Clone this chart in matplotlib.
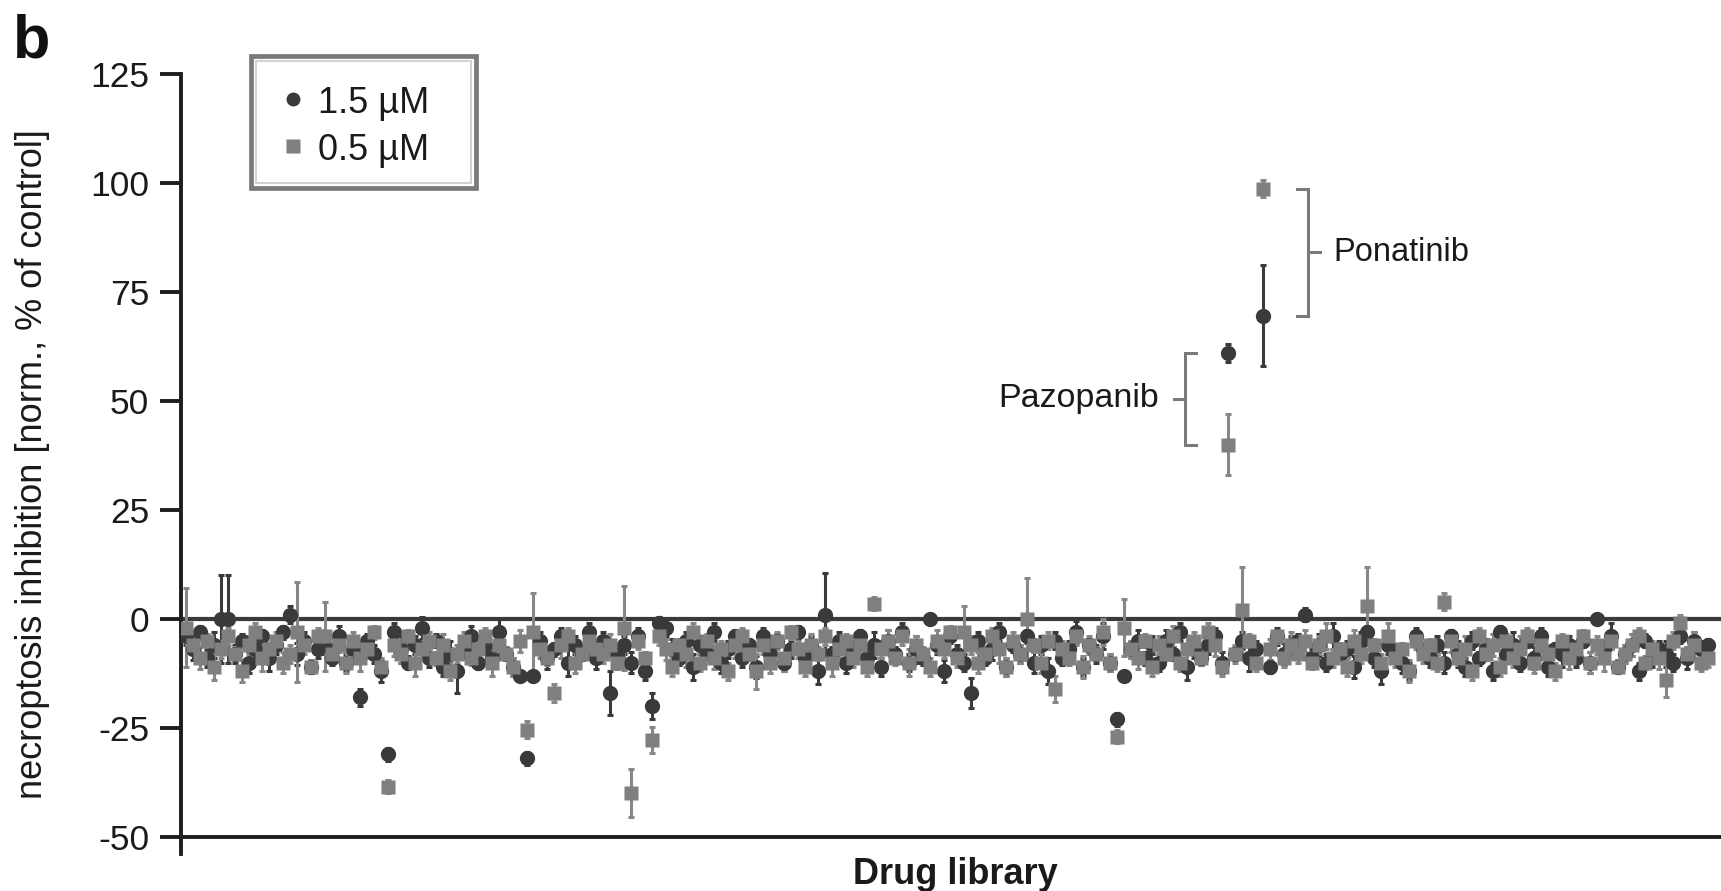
import matplotlib
matplotlib.use("Agg")
import matplotlib.pyplot as plt
from matplotlib.lines import Line2D
from matplotlib.patches import Rectangle
import numpy as np

plt.rcParams['font.family'] = ['Liberation Sans', 'DejaVu Sans']
plt.rcParams['axes.unicode_minus'] = False

# ---------------- data ----------------
series_labels = ["1.5 \u00b5M", "0.5 \u00b5M"]

dark_vals = [
    -4, -7, -3, -9, -6, 0, 0, -8, -5, -10, -7, -4, -9, -6, -3, 1, -8, -5, -11, -7,
    -6, -9, -4, -10, -7, -18, -5, -8, -12, -31, -3, -7, -10, -6, -2, -9, -5, -11, -8, -12,
    -7, -4, -10, -6, -9, -3, -8, -11, -13, -32, -13, -5, -9, -7, -4, -10, -6, -8, -3, -9,
    -5, -17, -8, -6, -10, -4, -12, -20, -1, -2, -7, -9, -5, -11, -6, -8, -3, -10, -7, -4,
    -9, -6, -11, -4, -8, -5, -10, -7, -3, -9, -6, -12, 1, -8, -5, -10, -7, -4, -9, -6,
    -11, -5, -8, -3, -10, -7, -9, 0, -6, -12, -4, -8, -10, -17, -5, -9, -7, -3, -11, -6,
    -8, -4, -10, -6, -12, -5, -9, -7, -3, -11, -6, -8, -4, -10, -23, -13, -7, -5, -9, -6,
    -10, -5, -8, -3, -11, -7, -9, -6, -4, -10, 61, -8, -5, -9, -7, 69.6, -11, -4, -8, -6,
    -5, 1, -9, -6, -10, -4, -8, -7, -11, -5, -3, -9, -12, -6, -8, -10, -12, -4, -7, -9,
    -6, -10, -4, -8, -11, -5, -9, -7, -12, -3, -8, -6, -10, -5, -9, -4, -11, -7, -8, -6,
    -9, -5, -10, 0, -7, -4, -11, -8, -6, -12, -5, -9, -7, -8, -10, -4, -9, -5, -7, -6,
]
dark_err = [
    2, 2.5, 1.5, 2, 3, 10, 10, 2, 1.5, 2.5, 2, 1.5, 3, 2, 1.5, 2, 2.5, 2, 1.5, 2,
    2, 1.5, 2.5, 2, 3, 2, 1.5, 2, 2.5, 1.5, 2, 3, 1.5, 2, 2.5, 2, 1.5, 2, 3, 5,
    2, 2.5, 1.5, 2, 2, 3, 1.5, 2, 1, 1.5, 1, 2, 2.5, 1.5, 2, 3, 2, 1.5, 2, 2.5,
    2, 5, 1.5, 2, 2.5, 2, 2, 3, 1.5, 2, 2.5, 1.5, 2, 3, 2, 1.5, 2, 2.5, 2, 1.5,
    2, 1.5, 2.5, 2, 3, 1.5, 2, 2, 1.5, 2.5, 2, 3, 9.5, 1.5, 2, 2.5, 2, 1.5, 2, 3,
    2, 2.5, 1.5, 2, 2, 3, 1.5, 1, 2, 2.5, 1.5, 2, 2, 3.5, 2, 1.5, 2.5, 2, 2, 1.5,
    2, 1.5, 2.5, 2, 3, 2, 1.5, 2, 2.5, 2, 1.5, 2, 3, 2, 1.5, 1, 2, 2.5, 1.5, 2,
    2, 2.5, 1.5, 2, 3, 2, 1.5, 2, 2, 2.5, 2, 1.5, 2, 3, 2, 11.5, 1.5, 2, 2.5, 2,
    1.5, 1.5, 2, 2.5, 2, 3, 1.5, 2, 2.5, 2, 1.5, 2, 3, 2, 1.5, 2.5, 2, 2, 1.5, 2,
    2, 2.5, 1.5, 3, 2, 2, 1.5, 2.5, 2, 1.5, 2, 3, 2, 1.5, 2.5, 2, 2, 1.5, 3, 2,
    2, 1.5, 2.5, 1, 2, 3, 1.5, 2, 2.5, 2, 1.5, 2, 2, 3, 2, 1.5, 2.5, 2, 2, 1.5,
]
grey_vals = [
    -2, -6, -9, -5, -11, -7, -4, -8, -12, -6, -3, -9, -7, -5, -10, -8, -3, -6, -11, -4,
    -4, -8, -6, -10, -5, -9, -7, -3, -11, -38.5, -6, -8, -4, -10, -7, -5, -9, -6, -12, -8,
    -5, -9, -7, -4, -10, -6, -8, -11, -5, -25.4, -3, -7, -9, -17, -6, -4, -10, -8, -5, -7,
    -8, -6, -10, -2, -40, -5, -9, -27.7, -4, -7, -11, -6, -8, -3, -10, -5, -9, -7, -12, -6,
    -4, -8, -12, -6, -10, -5, -9, -3, -7, -11, -6, -8, -4, -10, -7, -5, -9, -6, -11, 3.5,
    -7, -5, -9, -4, -10, -6, -8, -11, -5, -7, -3, -9, -3, -6, -10, -8, -4, -7, -11, -5,
    -8, 0, -6, -10, -5, -16, -7, -9, -4, -11, -6, -8, -3, -10, -27, -2, -7, -9, -5, -11,
    -6, -8, -4, -10, -7, -5, -9, -3, -6, -11, 40, -8, 2, -5, -10, 98.7, -7, -4, -9, -6,
    -8, -5, -10, -6, -4, -9, -7, -11, -5, -8, 3, -6, -10, -4, -9, -7, -12, -5, -8, -6,
    -10, 4, -5, -9, -7, -12, -4, -8, -6, -11, -5, -9, -7, -4, -10, -6, -8, -12, -5, -9,
    -7, -4, -10, -6, -9, -5, -11, -8, -6, -4, -10, -7, -9, -14, -5, -1, -8, -6, -10, -9,
]
grey_err = [
    9, 2, 2.5, 1.5, 3, 2, 2, 1.5, 2.5, 2, 2, 3, 1.5, 2, 2.5, 2, 11.5, 2, 1.5, 2,
    8, 2, 1.5, 2.5, 2, 3, 2, 1.5, 2, 1.5, 2.5, 2, 1.5, 3, 2, 2, 1.5, 2.5, 2, 2,
    2, 1.5, 2.5, 2, 3, 2, 1.5, 2, 2.5, 2, 9, 2, 1.5, 2, 3, 2, 2.5, 1.5, 2, 2,
    2, 2.5, 1.5, 9.6, 5.5, 2, 1.5, 3, 2, 2.5, 2, 1.5, 3, 2, 2, 1.5, 2.5, 2, 2, 3,
    2, 1.5, 4, 2, 2.5, 2, 3, 1.5, 2, 2, 2.5, 1.5, 2, 3, 2, 1.5, 2, 2.5, 2, 1.5,
    2, 2.5, 1.5, 2, 3, 2, 1.5, 2, 2.5, 2, 1.5, 2, 6, 2, 2.5, 1.5, 2, 3, 2, 2,
    2, 9.5, 1.5, 2.5, 2, 3, 2, 1.5, 2, 2.5, 2, 1.5, 3, 2, 1.5, 6.5, 2, 2.5, 1.5, 2,
    2, 1.5, 2.5, 2, 3, 2, 1.5, 2, 2.5, 2, 7, 2, 10, 1.5, 2, 2, 2.5, 1.5, 2, 3,
    2, 2.5, 1.5, 2, 3, 2, 1.5, 2, 2.5, 2, 9, 1.5, 2, 3, 2, 1.5, 2.5, 2, 2, 1.5,
    2, 2, 2.5, 1.5, 3, 2, 2, 1.5, 2.5, 2, 1.5, 2, 3, 2, 2.5, 1.5, 2, 2, 1.5, 2.5,
    2, 1.5, 2.5, 2, 3, 2, 1.5, 2, 2.5, 2, 1.5, 2, 2.5, 4, 2, 2, 1.5, 3, 2, 2,
]
yticks = [-50, -25, 0, 25, 50, 75, 100, 125]
ytick_labels = ["-50", "-25", "0", "25", "50", "75", "100", "125"]
highlight = {"Pazopanib": 150, "Ponatinib": 155}

# ---------------- style ----------------
DARK = '#3a3a3a'
GREY = '#7f7f7f'
TXT = '#1a1a1a'
W, H = 1721, 891
fig = plt.figure(figsize=(W / 100, H / 100), dpi=100)
ax_top, ax_bot = 74, 854.4
ax = fig.add_axes([181 / W, (H - ax_bot) / H, 1540 / W, (ax_bot - ax_top) / H])

x = np.arange(len(dark_vals))
n = len(x)
ppi = 1522 / (n - 1)
ax.set_xlim(-5 / ppi, (n - 1) + 13 / ppi)
ax.set_ylim(-54, 125)

ekw = dict(fmt='none', elinewidth=2.2, capsize=2.5, capthick=2.2, zorder=2)
ax.errorbar(x, dark_vals, yerr=dark_err, ecolor=DARK, **ekw)
ax.plot(x, dark_vals, 'o', color=DARK, ms=11, mec='none', zorder=3)
ax.errorbar(x, grey_vals, yerr=grey_err, ecolor='#878787', **ekw)
ax.plot(x, grey_vals, 's', color=GREY, ms=10.5, mec='none', zorder=4)

ax.axhline(0, color='#3a3a3a', lw=3.0, zorder=1)

for s in ['top', 'right']:
    ax.spines[s].set_visible(False)
ax.spines['bottom'].set_position(('data', -50))
for s in ['bottom', 'left']:
    ax.spines[s].set_color('#1e1e1e')
    ax.spines[s].set_linewidth(2.8)
ax.set_xticks([])
ax.set_yticks(yticks)
ax.set_yticklabels(ytick_labels)
ax.tick_params(axis='y', length=15, width=2.8, color='#1e1e1e', pad=8,
               labelsize=25.5, labelcolor=TXT)

# brackets / annotations
BR = '#7a7a7a'
ip = highlight["Ponatinib"]
top, bot = grey_vals[ip], dark_vals[ip]
bx = ip + 45 / ppi
ax.plot([bx - 11 / ppi, bx, bx, bx - 11 / ppi], [top, top, bot, bot], color=BR, lw=2.2,
        solid_joinstyle='miter')
mid = (top + bot) / 2
ax.plot([bx, bx + 12 / ppi], [mid, mid], color=BR, lw=2.2)
ax.text(bx + 25 / ppi, mid, "Ponatinib", fontsize=23.5, va='center', ha='left', color=TXT)

iz = highlight["Pazopanib"]
top, bot = dark_vals[iz], grey_vals[iz]
bx = iz - 43 / ppi
ax.plot([bx + 11 / ppi, bx, bx, bx + 11 / ppi], [top, top, bot, bot], color=BR, lw=2.2,
        solid_joinstyle='miter')
mid = (top + bot) / 2
ax.plot([bx, bx - 11 / ppi], [mid, mid], color=BR, lw=2.2)
ax.text(bx - 26 / ppi, mid, "Pazopanib", fontsize=24.5, va='center', ha='right', color=TXT)

# legend (drawn as a framed key in figure pixels)
def fx(px):
    return px / W

def fy(py):
    return 1 - py / H

fig.patches.append(Rectangle((fx(251), fy(188)), fx(476) - fx(251), fy(56) - fy(188),
                             transform=fig.transFigure, facecolor='white',
                             edgecolor='#7a7a7a', lw=3.4, zorder=5))
fig.patches.append(Rectangle((fx(256), fy(183)), fx(471) - fx(256), fy(61) - fy(183),
                             transform=fig.transFigure, facecolor='none',
                             edgecolor='#d2d2d2', lw=1.5, zorder=5))
markers = ['o', 's']
colors = [DARK, GREY]
row_base = [113, 160]
for lab, mk, col, yb in zip(series_labels, markers, colors, row_base):
    fig.lines.append(Line2D([fx(293)], [fy(yb - 14)], transform=fig.transFigure,
                            marker=mk, ls='', color=col, ms=10 if mk == 'o' else 9.5,
                            mec='none', zorder=6))
    fig.text(fx(318), fy(yb), lab, fontsize=26, ha='left', va='baseline',
             color=TXT, zorder=6)

fig.text(33 / W, 1 - 464 / H, "necroptosis inhibition [norm., % of control]",
         rotation=90, fontsize=26, ha='center', va='center', color=TXT)
fig.text(955 / W, 1 - 874 / H, "Drug library", fontsize=26, fontweight='bold',
         ha='center', va='center', color=TXT)
fig.text(13 / W, 1 - 57 / H, "b", fontsize=44, fontweight='bold', ha='left',
         va='baseline', color='#111111')

fig.savefig("out.png", dpi=100)
